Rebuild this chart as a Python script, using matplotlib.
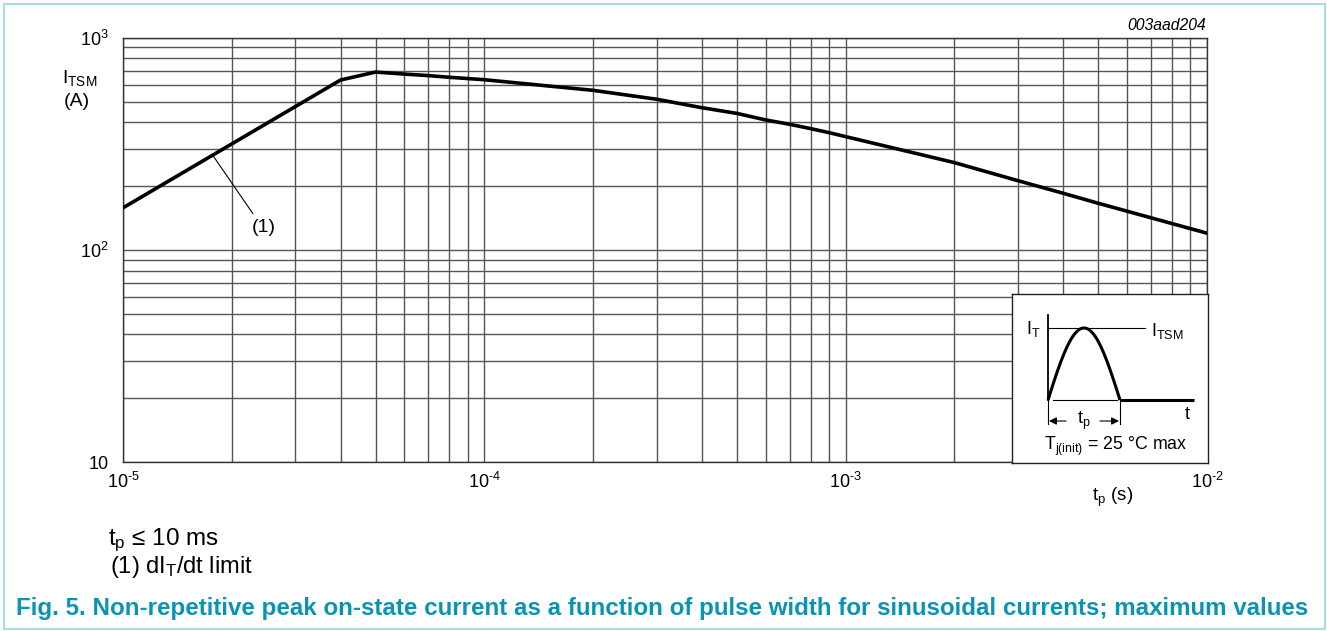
import numpy as np
import matplotlib
matplotlib.use("Agg")
import matplotlib.pyplot as plt
from matplotlib.patches import Rectangle
from matplotlib.ticker import FixedLocator, NullFormatter

# =============================================================================
# DATOS
# =============================================================================
tp_s = [1e-5, 2e-5, 3e-5, 4e-5, 5e-5, 6e-5, 7e-5, 8e-5, 9e-5, 1e-4,
        2e-4, 3e-4, 4e-4, 5e-4, 6e-4, 7e-4, 8e-4, 9e-4, 1e-3,
        2e-3, 3e-3, 4e-3, 5e-3, 1e-2]
itsm_a = [158, 316, 474, 632, 689, 674, 663, 651, 642, 634,
          565, 513, 468, 440, 410, 391, 373, 357, 342,
          258, 212, 185, 166, 120]

xticks = [1e-5, 1e-4, 1e-3, 1e-2]
xticklabels = [r"$10^{\text{-5}}$", r"$10^{\text{-4}}$",
               r"$10^{\text{-3}}$", r"$10^{\text{-2}}$"]
yticks = [10, 100, 1000]
yticklabels = ["10", "$10^{2}$", "$10^{3}$"]

# punto de la curva señalado por la etiqueta (1)
nota1_xy = (1.77e-5, 280)
nota1_txt = (2.45e-5, 128)

plt.rcParams["font.family"] = ["Liberation Sans", "DejaVu Sans"]
plt.rcParams["mathtext.fontset"] = "custom"
plt.rcParams["mathtext.rm"] = "Liberation Sans"
plt.rcParams["mathtext.it"] = "Liberation Sans:italic"
plt.rcParams["mathtext.bf"] = "Liberation Sans:bold"

W, H = 1327, 631


def fx(x):
    return x / W


def fy(y):
    return 1 - y / H


fig = plt.figure(figsize=(W / 100, H / 100), dpi=100)

# marco celeste de la figura
fig.patches.append(Rectangle((fx(4), fy(629)), (1325 - 4) / W, (629 - 4) / H,
                             transform=fig.transFigure, fill=False,
                             edgecolor="#a9dce7", lw=1.5))

# =============================================================================
# EJES PRINCIPALES
# =============================================================================
ax = fig.add_axes([fx(123), fy(462.3), (1207 - 123) / W, (462.3 - 37.7) / H])
ax.set_xscale("log")
ax.set_yscale("log")
ax.set_xlim(1e-5, 1e-2)
ax.set_ylim(10, 1000)

ax.xaxis.set_major_locator(FixedLocator(xticks))
ax.set_xticklabels(xticklabels, fontsize=13)
ax.yaxis.set_major_locator(FixedLocator(yticks))
ax.set_yticklabels(yticklabels, fontsize=13)
ax.xaxis.set_minor_locator(FixedLocator(
    [m * 10.0 ** e for e in range(-5, -2) for m in range(2, 10)]))
ax.yaxis.set_minor_locator(FixedLocator(
    [m * 10.0 ** e for e in range(1, 3) for m in range(2, 10)]))
ax.xaxis.set_minor_formatter(NullFormatter())
ax.yaxis.set_minor_formatter(NullFormatter())
ax.tick_params(which="both", length=0)
ax.tick_params(axis="x", pad=7)
ax.tick_params(axis="y", pad=10)

ax.grid(True, which="both", color="#555555", lw=1.0)
ax.set_axisbelow(True)
for sp in ax.spines.values():
    sp.set_color("#333333")
    sp.set_linewidth(1.0)

ax.plot(tp_s, itsm_a, color="black", lw=2.6, solid_joinstyle="miter", zorder=3)

ax.annotate("(1)", xy=nota1_xy, xytext=nota1_txt, fontsize=14,
            ha="center", va="center",
            arrowprops=dict(arrowstyle="-", lw=0.8, color="black",
                            shrinkA=2, shrinkB=0, relpos=(0.2, 1.0)))

# etiquetas de ejes y textos sueltos
fig.text(fx(62), fy(78), r"I$_\mathrm{TSM}$", fontsize=14, ha="left", va="center")
fig.text(fx(64), fy(102), "(A)", fontsize=14, ha="left", va="center")
fig.text(fx(1113), fy(497), r"t$_\mathrm{p}$ (s)", fontsize=13.5, ha="center", va="center")
fig.text(fx(1206), fy(25), "003aad204", fontsize=11.3, style="italic",
         ha="right", va="center")

fig.text(fx(108), fy(540), r"t$_\mathrm{p}$ ≤ 10 ms", fontsize=17.5,
         ha="left", va="center")
fig.text(fx(110), fy(567), r"(1) dI$_\mathrm{T}$/dt limit", fontsize=17,
         ha="left", va="center")

fig.text(fx(16), fy(609),
         "Fig. 5. Non-repetitive peak on-state current as a function of pulse "
         "width for sinusoidal currents; maximum values",
         fontsize=17.4, fontweight="bold", color="#0a93b3", ha="left", va="center")

# =============================================================================
# RECUADRO CON EL PULSO SENOIDAL
# =============================================================================
ins = fig.add_axes([fx(1012), fy(463), 196 / W, 169 / H], zorder=5)
ins.set_xlim(1012, 1208)
ins.set_ylim(463, 294)
ins.set_xticks([])
ins.set_yticks([])
ins.set_facecolor("white")
for sp in ins.spines.values():
    sp.set_color("#222222")
    sp.set_linewidth(1.0)

t_ini, t_fin, base, pico = 1048, 1120, 400, 328
xs = np.linspace(t_ini, t_fin, 100)
ins.plot(xs, base - (base - pico) * np.sin(np.pi * (xs - t_ini) / (t_fin - t_ini)),
         color="black", lw=2.2, solid_capstyle="butt")
ins.plot([t_fin, 1194], [base, base], color="black", lw=2.2, solid_capstyle="butt")
ins.plot([t_ini + 5, t_fin - 3], [base, base], color="black", lw=0.8)
ins.plot([t_ini, t_ini], [315, base], color="black", lw=1.3)
ins.plot([t_ini, 1145], [pico, pico], color="black", lw=0.8)
ins.plot([t_ini, t_ini], [base, 424], color="black", lw=0.8)
ins.plot([t_fin, t_fin], [base, 424], color="black", lw=0.8)
ins.annotate("", xy=(t_ini + 1, 421), xytext=(1066, 421),
             arrowprops=dict(arrowstyle="-|>", lw=0.8, color="black",
                             mutation_scale=11, shrinkA=0, shrinkB=0))
ins.annotate("", xy=(t_fin - 1, 421), xytext=(1100, 421),
             arrowprops=dict(arrowstyle="-|>", lw=0.8, color="black",
                             mutation_scale=11, shrinkA=0, shrinkB=0))
ins.text(1084, 421, r"t$_\mathrm{p}$", fontsize=13, ha="center", va="center")
ins.text(1026, 329, r"I$_\mathrm{T}$", fontsize=13, ha="left", va="center")
ins.text(1151, 331, r"I$_\mathrm{TSM}$", fontsize=13, ha="left", va="center")
ins.text(1187, 414, "t", fontsize=13, ha="center", va="center")
ins.text(1116, 446, r"T$_\mathrm{j(init)}$ = 25 °C max", fontsize=12.8,
         ha="center", va="center")

fig.savefig("out.png", dpi=100)
